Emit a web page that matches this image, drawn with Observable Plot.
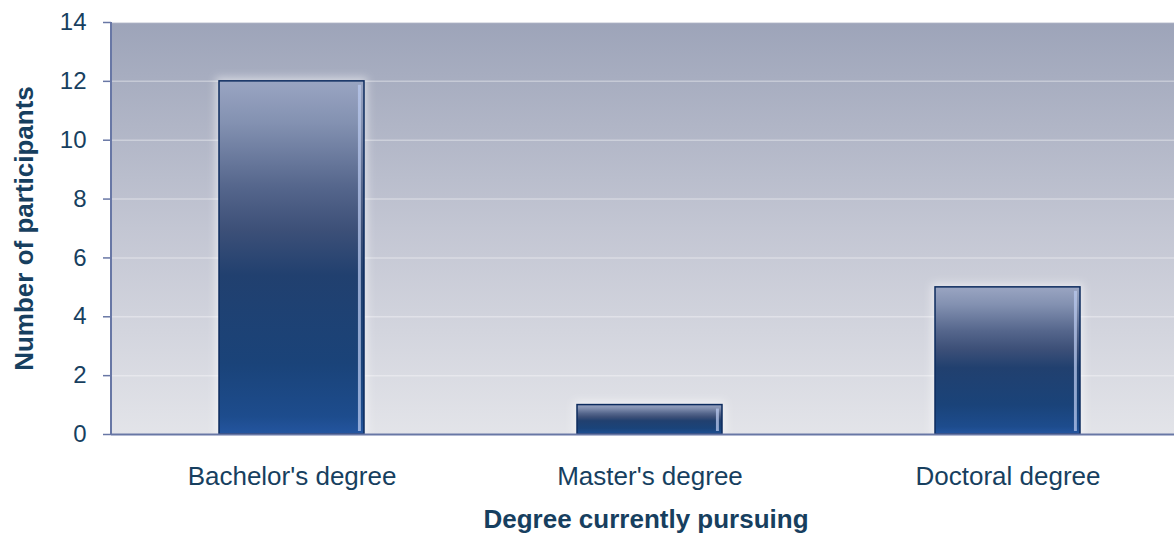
<!DOCTYPE html>
<html>
<head>
<meta charset="utf-8">
<script src="https://cdn.jsdelivr.net/npm/d3@7"></script>
<script src="https://cdn.jsdelivr.net/npm/@observablehq/plot@0.6"></script>
<style>
  html, body { margin: 0; padding: 0; background: #fff; overflow: hidden; }
  #chart svg { display: block; font-family: "Liberation Sans", Arial, sans-serif; }
</style>
</head>
<body>
<div id="chart"></div>
<script>
const categories = ["Bachelor's degree", "Master's degree", "Doctoral degree"];
const participants = [12, 1, 5];
const yTicks = [0, 2, 4, 6, 8, 10, 12, 14];
const xTitle = "Degree currently pursuing";
const yTitle = "Number of participants";

const data = categories.map((c, i) => ({degree: c, count: participants[i]}));
const textColor = "#173f5f";
const axisColor = "#6877a5";

function defs() {
  const ns = "http://www.w3.org/2000/svg";
  const g = document.createElementNS(ns, "defs");
  g.innerHTML = `
    <linearGradient id="bg" x1="0" y1="0" x2="0" y2="1">
      <stop offset="0" stop-color="#9da4b9"/>
      <stop offset="0.5" stop-color="#c3c6d3"/>
      <stop offset="1" stop-color="#e3e4e9"/>
    </linearGradient>
    <linearGradient id="barg" x1="0" y1="0" x2="0" y2="1">
      <stop offset="0" stop-color="#9aa5c2"/>
      <stop offset="0.12" stop-color="#8391b1"/>
      <stop offset="0.3" stop-color="#55668c"/>
      <stop offset="0.42" stop-color="#3d5078"/>
      <stop offset="0.55" stop-color="#21406f"/>
      <stop offset="0.8" stop-color="#1a4379"/>
      <stop offset="0.95" stop-color="#1d4c8d"/>
      <stop offset="1" stop-color="#2455a0"/>
    </linearGradient>
    <linearGradient id="hl" x1="0" y1="0" x2="1" y2="0">
      <stop offset="0" stop-color="#ffffff" stop-opacity="0"/>
      <stop offset="0.955" stop-color="#ffffff" stop-opacity="0"/>
      <stop offset="0.96" stop-color="#b8c8ee" stop-opacity="0.75"/>
      <stop offset="0.975" stop-color="#b8c8ee" stop-opacity="0.75"/>
      <stop offset="0.98" stop-color="#ffffff" stop-opacity="0"/>
      <stop offset="1" stop-color="#ffffff" stop-opacity="0"/>
    </linearGradient>
    <filter id="glow" x="-20%" y="-20%" width="140%" height="140%">
      <feGaussianBlur stdDeviation="4"/>
    </filter>`;
  return g;
}

// left axis line drawn at the frame's left edge
function leftAxisLine(index, scales, values, dims) {
  const ns = "http://www.w3.org/2000/svg";
  const l = document.createElementNS(ns, "line");
  const x = dims.marginLeft;
  l.setAttribute("x1", x); l.setAttribute("x2", x);
  l.setAttribute("y1", scales.y(14)); l.setAttribute("y2", scales.y(0));
  l.setAttribute("stroke", axisColor); l.setAttribute("stroke-width", 2);
  return l;
}

const chart = Plot.plot({
  width: 1174,
  height: 540,
  marginLeft: 111,
  marginRight: 0,
  marginTop: 22,
  marginBottom: 106,
  style: {background: "transparent", color: textColor},
  x: {domain: categories, range: [111.5, 1187], paddingInner: 0.595, paddingOuter: 0.2975, label: null},
  y: {domain: [0, 14], label: null},
  marks: [
    defs,
    Plot.frame({fill: "url(#bg)", stroke: null}),
    Plot.gridY(yTicks, {stroke: "#ffffff", strokeOpacity: 0.35, strokeWidth: 1.5}),
    Plot.barY(data, {x: "degree", y: "count", fill: "#ffffff", fillOpacity: 0.55, inset: -3, render: (i, s, v, d, c, next) => { const g = next(i, s, v, d, c); g.setAttribute("filter", "url(#glow)"); return g; }}),
    Plot.barY(data, {x: "degree", y: "count", fill: "url(#barg)", stroke: "#0c2b5e", strokeWidth: 1.5}),
    Plot.barY(data, {x: "degree", y: "count", fill: "url(#hl)", insetTop: 4, insetBottom: 3}),
    leftAxisLine,
    Plot.ruleY([0], {stroke: axisColor, strokeWidth: 2}),
    Plot.axisY({ticks: yTicks, tickSize: 8, tickPadding: 17, fontSize: 24, stroke: axisColor, strokeWidth: 1.5, label: null, tickFormat: d => String(d)}),
    Plot.axisX({tickSize: 0, tickPadding: 32, fontSize: 26, label: null}),
    Plot.text([xTitle], {frameAnchor: "bottom", dy: 93, dx: 3, fontSize: 26, fontWeight: "bold", fill: textColor}),
    Plot.text([yTitle], {frameAnchor: "left", textAnchor: "middle", rotate: -90, dx: -87, dy: 0, fontSize: 26, fontWeight: "bold", fill: textColor})
  ]
});
document.getElementById("chart").appendChild(chart);
</script>
</body>
</html>
